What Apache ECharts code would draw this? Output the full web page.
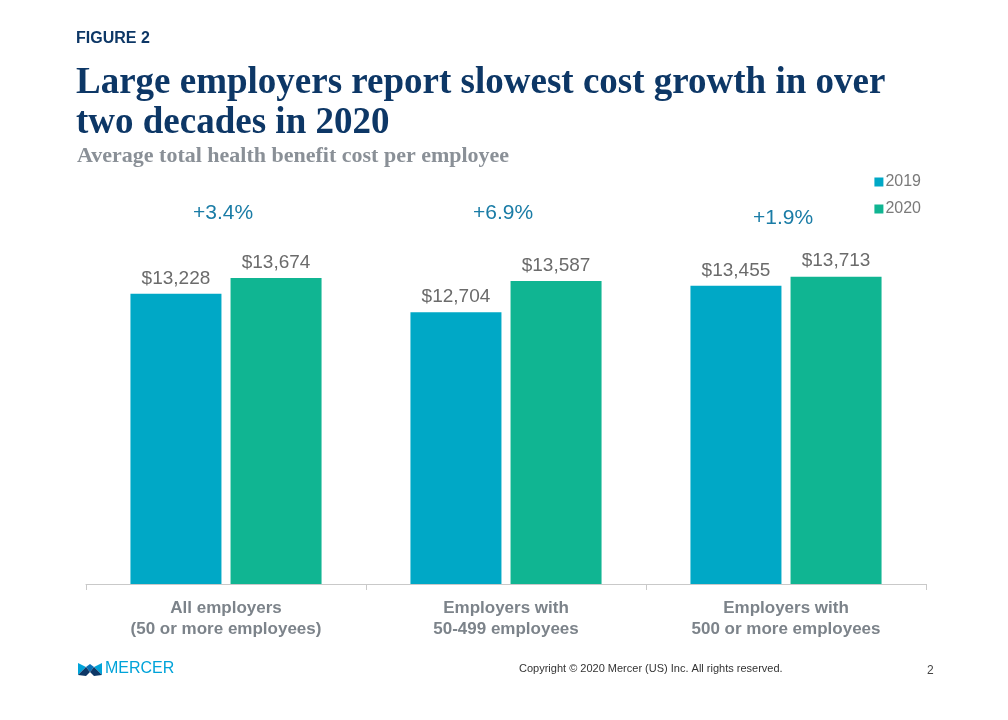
<!DOCTYPE html>
<html><head><meta charset="utf-8">
<script src="https://cdn.jsdelivr.net/npm/echarts@6/dist/echarts.min.js"></script>
<style>html,body{margin:0;padding:0;background:#fff}#c{width:1008px;height:720px}</style>
</head><body><div id="c"></div>
<script>
const categories = ["All employers\n(50 or more employees)", "Employers with\n50-499 employees", "Employers with\n500 or more employees"];
const seriesNames = ["2019", "2020"];
const values2019 = [13228, 12704, 13455];
const values2020 = [13674, 13587, 13713];
const growthLabels = ["+3.4%", "+6.9%", "+1.9%"];

const chart = echarts.init(document.getElementById('c'), null, {renderer: 'canvas'});
const sans = 'Liberation Sans, Arial, sans-serif';
const serif = 'Liberation Serif, Times New Roman, serif';
const labelStyle = {show: true, position: 'top', distance: 6, fontFamily: sans, fontSize: 19, color: '#6b6b6b',
  formatter: p => '$' + p.value.toLocaleString('en-US')};

chart.setOption({
  animation: false,
  grid: {left: 86, right: 82, top: 196, bottom: 136},
  legend: {
    orient: 'vertical', right: 82, top: 169, itemWidth: 9, itemHeight: 9, itemGap: 11, icon: 'rect',
    textStyle: {fontFamily: sans, fontSize: 16, color: '#7a7a7a', padding: [0, 0, 0, -3]},
    data: seriesNames
  },
  xAxis: {
    type: 'category', data: categories,
    axisLine: {lineStyle: {color: '#c9c9c9', width: 1}},
    axisTick: {show: true, length: 6, lineStyle: {color: '#c9c9c9'}},
    axisLabel: {fontFamily: sans, fontSize: 17, fontWeight: 'bold', color: '#7c838a', lineHeight: 21, margin: 14}
  },
  yAxis: {type: 'value', min: 5000, max: 16000, show: false, splitLine: {show: false}},
  series: [
    {name: seriesNames[0], type: 'bar', data: values2019, barWidth: 91, barGap: '10%',
     itemStyle: {color: '#00a8c6'}, label: labelStyle},
    {name: seriesNames[1], type: 'bar', data: values2020, barWidth: 91,
     itemStyle: {color: '#10b592'}, label: labelStyle}
  ]
});

const growthY = [213, 213, 218];
const graphics = [
  {type: 'text', left: 76, top: 31, style: {text: 'FIGURE 2', font: 'bold 16px ' + sans, fill: '#0d3766'}},
  {type: 'text', left: 76, top: 63, style: {text: 'Large employers report slowest cost growth in over\ntwo decades in 2020',
    font: 'bold 37px ' + serif, fill: '#0d3766', lineHeight: 40}},
  {type: 'text', left: 77, top: 145, style: {text: 'Average total health benefit cost per employee', font: 'bold 22px ' + serif, fill: '#8a9097'}},
  {type: 'text', left: 105, top: 661, style: {text: 'MERCER', font: '16px ' + sans, fill: '#00a3d9'}},
  {type: 'polygon', shape: {points: [[78,663],[86,667],[78,675]]}, style: {fill: '#00a3d9'}},
  {type: 'polygon', shape: {points: [[86,667],[90,664],[94,667],[90,672]]}, style: {fill: '#0a6fb5'}},
  {type: 'polygon', shape: {points: [[102,663],[94,667],[102,675]]}, style: {fill: '#00a3d9'}},
  {type: 'polygon', shape: {points: [[78,675],[86,667],[90,672],[86,676]]}, style: {fill: '#0d3766'}},
  {type: 'polygon', shape: {points: [[102,675],[94,667],[90,672],[94,676]]}, style: {fill: '#0d3766'}},
  {type: 'text', left: 519, top: 663, style: {text: 'Copyright \u00a9 2020 Mercer (US) Inc. All rights reserved.', font: '11px ' + sans, fill: '#333'}},
  {type: 'text', left: 927, top: 665, style: {text: '2', font: '12px ' + sans, fill: '#444'}}
];
categories.forEach((c, i) => {
  const x = chart.convertToPixel({xAxisIndex: 0}, i);
  graphics.push({type: 'text', x: x - 3, y: growthY[i], style: {text: growthLabels[i], font: '21px ' + sans, fill: '#1a7ca6', align: 'center', verticalAlign: 'middle'}});
});
chart.setOption({graphic: graphics});
</script></body></html>
